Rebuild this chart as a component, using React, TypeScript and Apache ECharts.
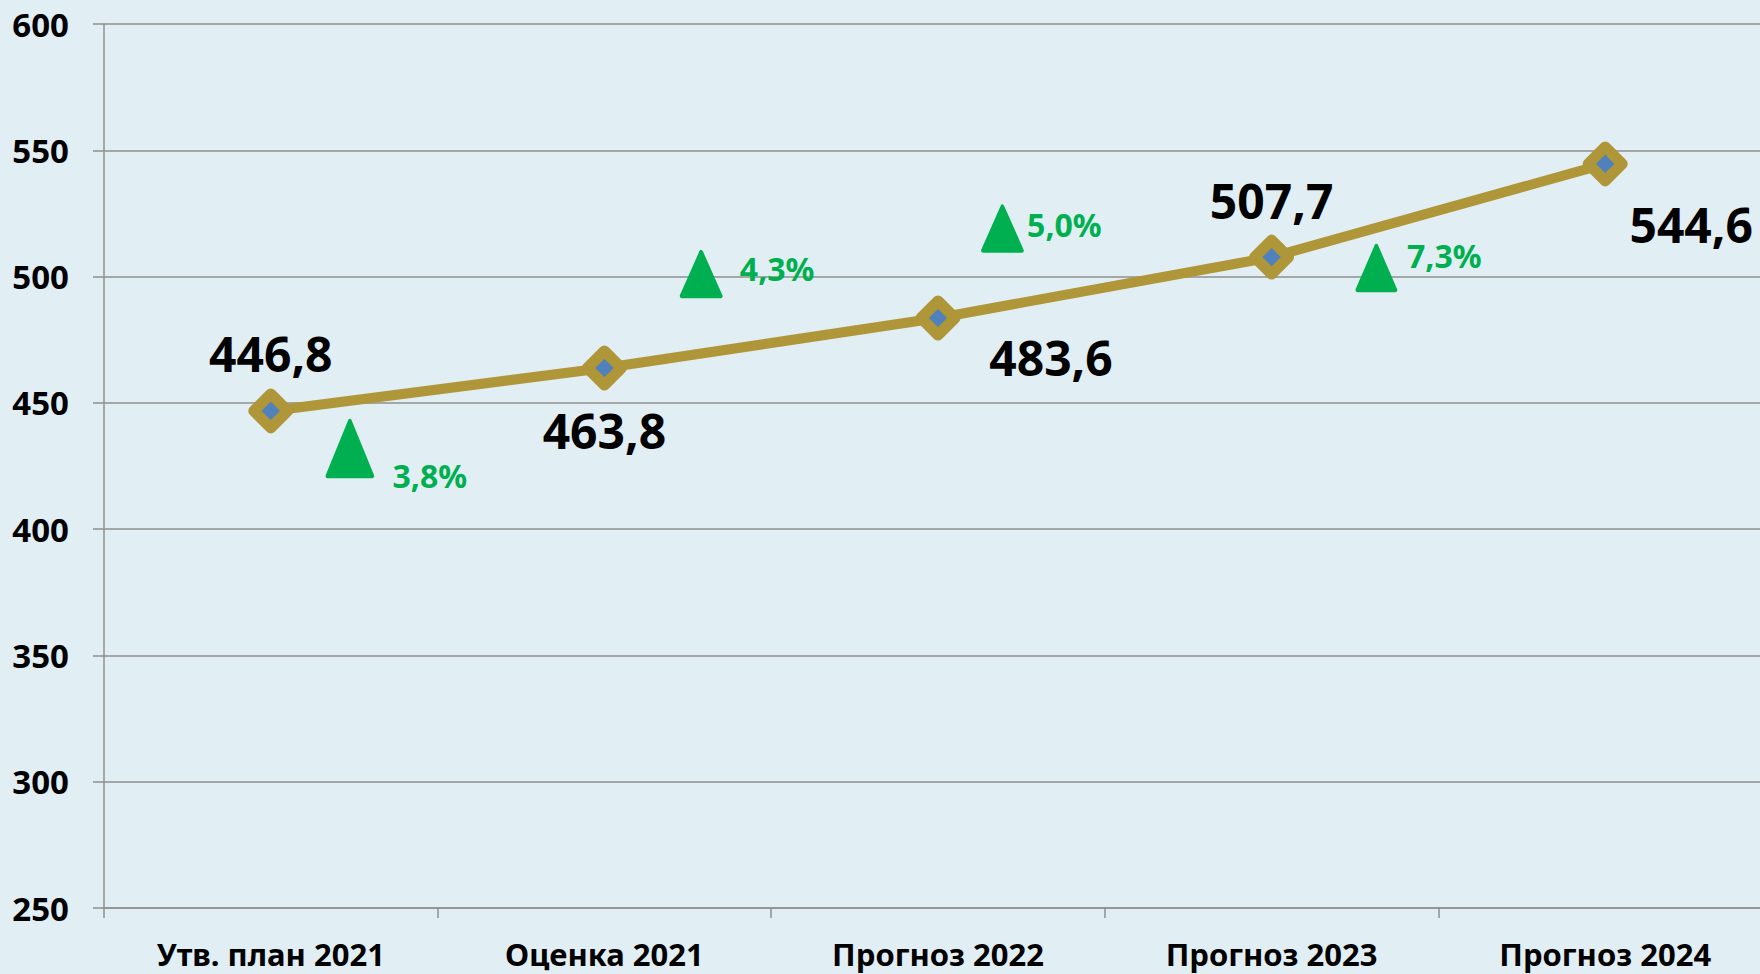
import React, { useEffect, useRef } from "react";
import * as echarts from "echarts";

const categories = ["Утв. план 2021", "Оценка 2021", "Прогноз 2022", "Прогноз 2023", "Прогноз 2024"];
const values = [446.8, 463.8, 483.6, 507.7, 544.6];
const valueLabels = ["446,8", "463,8", "483,6", "507,7", "544,6"];

const growthLabels = ["3,8%", "4,3%", "5,0%", "7,3%"];
// annotation anchor positions: x in category units (category i centred at i + 0.5), y on the value axis
const growthX = [0.737, 1.79, 2.693, 3.814];
const growthY = [431.9, 501.0, 519.0, 503.4];

const yTicks = { min: 250, max: 600, interval: 50 };

const labelOffsets: [number, number][] = [
  [0, -57],
  [0, 62],
  [113, 40],
  [0, -57],
  [86, 61],
];
const growthTextOffsets: [number, number][] = [
  [80, 27],
  [76, -6],
  [62, -4],
  [68, -12],
];
const triangleSizes: [number, number][] = [
  [45, 55],
  [39, 44],
  [39, 44],
  [38, 44],
];

const FONT = "'Noto Sans', 'Open Sans', sans-serif";
const GOLD = "#AF9638";
const GREEN = "#00B050";
const GRID = "#8F8F8F";

export default function App() {
  const ref = useRef<HTMLDivElement>(null);

  useEffect(() => {
    document.body.style.margin = "0";
    if (!ref.current) return;
    const chart = echarts.init(ref.current, null, { renderer: "svg" });

    const option: any = {
      animation: false,
      backgroundColor: "#E1EEF4",
      grid: {
        left: 104,
        right: -12,
        top: 24,
        bottom: 66,
        outerBoundsMode: "none",
        containLabel: false,
      },
      xAxis: [
        {
          type: "category",
          data: categories,
          boundaryGap: true,
          axisLine: { show: true, lineStyle: { color: GRID, width: 1.5 } },
          axisTick: { show: true, alignWithLabel: false, length: 10, lineStyle: { color: GRID, width: 1.5 } },
          axisLabel: {
            interval: 0,
            margin: 31,
            color: "#000",
            fontFamily: FONT,
            fontWeight: "bold",
            fontSize: 31,
            lineHeight: 30,
          },
          splitLine: { show: false },
        },
        {
          type: "value",
          min: 0,
          max: 5,
          show: false,
          gridIndex: 0,
        },
      ],
      yAxis: {
        type: "value",
        min: yTicks.min,
        max: yTicks.max,
        interval: yTicks.interval,
        axisLine: { show: true, lineStyle: { color: GRID, width: 1.5 } },
        axisTick: { show: true, length: 11, lineStyle: { color: GRID, width: 1.5 } },
        axisLabel: {
          margin: 35,
          color: "#000",
          fontFamily: FONT,
          fontWeight: "bold",
          fontSize: 33,
        },
        splitLine: { show: true, lineStyle: { color: GRID, width: 1.5 } },
      },
      series: [
        {
          type: "line",
          xAxisIndex: 0,
          data: values.map((v, i) => ({
            value: v,
            label: {
              show: true,
              position: "inside",
              offset: labelOffsets[i],
              formatter: () => valueLabels[i],
              color: "#000",
              fontFamily: FONT,
              fontWeight: "bold",
              fontSize: 48,
              align: "center",
              verticalAlign: "middle",
            },
          })),
          symbol: "diamond",
          symbolSize: 34,
          lineStyle: { color: GOLD, width: 10 },
          itemStyle: { color: "#4F81BD", borderColor: GOLD, borderWidth: 11, borderJoin: "round", opacity: 1 },
          z: 3,
        },
        {
          type: "scatter",
          xAxisIndex: 1,
          symbol: "triangle",
          data: growthX.map((x, i) => ({
            value: [x, growthY[i]],
            symbolSize: triangleSizes[i],
            label: {
              show: true,
              position: "inside",
              offset: growthTextOffsets[i],
              formatter: () => growthLabels[i],
              color: GREEN,
              fontFamily: FONT,
              fontWeight: "bold",
              fontSize: 32,
              align: "center",
              verticalAlign: "middle",
              opacity: 1,
            },
          })),
          itemStyle: { color: GREEN, borderColor: GREEN, borderWidth: 4, borderJoin: "round", opacity: 1 },
          z: 4,
        },
      ],
    };

    chart.setOption(option);
    return () => chart.dispose();
  }, []);

  return (
    <div
      ref={ref}
      style={{ position: "absolute", left: 0, top: 0, width: 1760, height: 974 }}
    />
  );
}
